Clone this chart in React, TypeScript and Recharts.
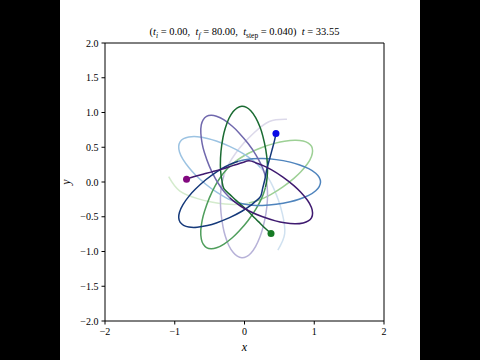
import { ComposedChart, Line, XAxis, YAxis, ReferenceLine } from 'recharts';

// three-body trails, oldest point first, newest (current body position) last
const GREEN_TRAIL: [number, number][] = [
  [-1.087, 0.076], [-0.931, -0.127], [-0.673, -0.239], [-0.475, -0.289], [-0.277, -0.318],
  [-0.14, -0.324], [-0.032, -0.318], [0.064, -0.303], [0.159, -0.278], [0.26, -0.239],
  [0.382, -0.178], [0.551, -0.071], [0.712, 0.056], [0.808, 0.147], [0.903, 0.262],
  [0.96, 0.368], [0.976, 0.445], [0.962, 0.512], [0.915, 0.561], [0.841, 0.591],
  [0.722, 0.601], [0.574, 0.587], [0.444, 0.559], [0.249, 0.497], [0.066, 0.417],
  [-0.053, 0.349], [-0.142, 0.287], [-0.215, 0.223], [-0.282, 0.152], [-0.347, 0.065],
  [-0.419, -0.051], [-0.505, -0.232], [-0.574, -0.425], [-0.607, -0.553], [-0.627, -0.7],
  [-0.619, -0.821], [-0.592, -0.895], [-0.545, -0.944], [-0.478, -0.961], [-0.401, -0.947],
  [-0.294, -0.893], [-0.175, -0.802], [-0.08, -0.71], [0.052, -0.554], [0.165, -0.388],
  [0.23, -0.268], [0.272, -0.168], [0.301, -0.075], [0.319, 0.021], [0.329, 0.129],
  [0.328, 0.266], [0.305, 0.465], [0.262, 0.664], [0.222, 0.79], [0.16, 0.926],
  [0.09, 1.024], [0.028, 1.073], [-0.038, 1.089], [-0.103, 1.068], [-0.162, 1.015],
  [-0.224, 0.913], [-0.276, 0.773], [-0.308, 0.644], [-0.337, 0.442], [-0.346, 0.242],
  [-0.337, 0.105], [-0.32, -0.002], [-0.295, -0.096], [-0.22, -0.17], [-0.12, -0.265],
  [0.0, -0.37], [0.1, -0.47], [0.2, -0.57], [0.3, -0.67], [0.38, -0.74],
];

const BLUE_TRAIL: [number, number][] = [
  [0.478, -0.979], [0.576, -0.743], [0.544, -0.463], [0.488, -0.267], [0.414, -0.081],
  [0.351, 0.041], [0.291, 0.131], [0.23, 0.207], [0.161, 0.277], [0.077, 0.345],
  [-0.037, 0.42], [-0.214, 0.513], [-0.405, 0.589], [-0.531, 0.626], [-0.678, 0.651],
  [-0.799, 0.647], [-0.873, 0.623], [-0.924, 0.577], [-0.943, 0.512], [-0.932, 0.433],
  [-0.882, 0.325], [-0.795, 0.204], [-0.706, 0.105], [-0.555, -0.033], [-0.394, -0.151],
  [-0.276, -0.22], [-0.178, -0.267], [-0.086, -0.298], [0.009, -0.32], [0.117, -0.333],
  [0.254, -0.337], [0.453, -0.321], [0.655, -0.285], [0.782, -0.249], [0.92, -0.193],
  [1.021, -0.126], [1.071, -0.065], [1.09, 0.0], [1.071, 0.067], [1.021, 0.126],
  [0.92, 0.192], [0.782, 0.249], [0.655, 0.286], [0.454, 0.322], [0.254, 0.337],
  [0.117, 0.333], [0.01, 0.32], [-0.086, 0.298], [-0.178, 0.266], [-0.276, 0.22],
  [-0.394, 0.151], [-0.555, 0.032], [-0.706, -0.105], [-0.795, -0.203], [-0.882, -0.324],
  [-0.932, -0.434], [-0.943, -0.512], [-0.924, -0.577], [-0.873, -0.623], [-0.798, -0.648],
  [-0.679, -0.651], [-0.531, -0.626], [-0.404, -0.589], [-0.214, -0.513], [-0.037, -0.421],
  [0.078, -0.344], [0.162, -0.276], [0.231, -0.208], [0.257, -0.106], [0.29, 0.029],
  [0.32, 0.185], [0.357, 0.322], [0.394, 0.458], [0.43, 0.595], [0.451, 0.699],
];

const PURPLE_TRAIL: [number, number][] = [
  [0.609, 0.903], [0.356, 0.87], [0.13, 0.702], [-0.013, 0.556], [-0.137, 0.399],
  [-0.211, 0.283], [-0.259, 0.187], [-0.294, 0.096], [-0.32, 0.001], [-0.337, -0.106],
  [-0.345, -0.242], [-0.337, -0.442], [-0.308, -0.645], [-0.277, -0.773], [-0.225, -0.913],
  [-0.161, -1.015], [-0.103, -1.068], [-0.038, -1.089], [0.028, -1.073], [0.091, -1.024],
  [0.16, -0.926], [0.221, -0.791], [0.262, -0.664], [0.306, -0.464], [0.328, -0.266],
  [0.329, -0.128], [0.32, -0.021], [0.301, 0.075], [0.273, 0.168], [0.23, 0.268],
  [0.165, 0.388], [0.052, 0.553], [-0.081, 0.71], [-0.175, 0.802], [-0.293, 0.893],
  [-0.402, 0.947], [-0.479, 0.96], [-0.545, 0.944], [-0.593, 0.895], [-0.62, 0.821],
  [-0.626, 0.701], [-0.607, 0.553], [-0.575, 0.424], [-0.506, 0.232], [-0.419, 0.051],
  [-0.347, -0.065], [-0.282, -0.152], [-0.216, -0.223], [-0.141, -0.287], [-0.053, -0.349],
  [0.066, -0.417], [0.25, -0.497], [0.444, -0.559], [0.573, -0.587], [0.722, -0.602],
  [0.842, -0.59], [0.915, -0.561], [0.962, -0.512], [0.976, -0.445], [0.96, -0.367],
  [0.903, -0.263], [0.807, -0.148], [0.712, -0.055], [0.551, 0.071], [0.383, 0.179],
  [0.26, 0.239], [0.158, 0.278], [0.064, 0.304], [-0.037, 0.276], [-0.17, 0.236],
  [-0.32, 0.185], [-0.457, 0.149], [-0.594, 0.112], [-0.73, 0.075], [-0.831, 0.041],
];

// trail is split into fading pieces (oldest -> newest), cut at the inner swings
const SEGMENT_BREAKS = [0, 7, 27, 47, 74];

const GREEN_SHADES = ['#d4ebcd', '#9dd095', '#4f9e5c', '#1a6b32'];
const BLUE_SHADES = ['#d0e1f0', '#9cc3e2', '#4f84bd', '#15397a'];
const PURPLE_SHADES = ['#dcd9ea', '#b7b2d8', '#7068ad', '#3f1a70'];

const X_TICKS = [-2, -1, 0, 1, 2];
const Y_TICKS = [-2, -1.5, -1, -0.5, 0, 0.5, 1, 1.5, 2];

const BODIES = [
  { name: 'green', trail: GREEN_TRAIL, shades: GREEN_SHADES, dot: '#167a24' },
  { name: 'blue', trail: BLUE_TRAIL, shades: BLUE_SHADES, dot: '#0a0ae6' },
  { name: 'purple', trail: PURPLE_TRAIL, shades: PURPLE_SHADES, dot: '#82087f' },
];

const FONT = '"Liberation Serif", "DejaVu Serif", serif';
const minus = (s: string) => s.replace('-', '\u2212');

function piece(trail: [number, number][], a: number, b: number) {
  return trail.slice(a, b + 1).map(([x, y]) => ({ x, y }));
}

export default function App() {
  const tick = { fill: '#000', fontSize: 10, fontFamily: FONT };

  const lines: JSX.Element[] = [];
  for (let s = 0; s < SEGMENT_BREAKS.length - 1; s++) {
    BODIES.forEach((b) => {
      lines.push(
        <Line
          key={`${b.name}-${s}`}
          data={piece(b.trail, SEGMENT_BREAKS[s], SEGMENT_BREAKS[s + 1])}
          dataKey="y"
          type="natural"
          stroke={b.shades[s]}
          strokeWidth={1.5}
          dot={false}
          activeDot={false}
          isAnimationActive={false}
        />
      );
    });
  }

  return (
    <div style={{ position: 'absolute', left: 0, top: 0, width: 480, height: 360, background: '#000' }}>
      <div style={{ position: 'absolute', left: 60, top: 0, width: 360, height: 360, background: '#fff' }}>
        <ComposedChart width={360} height={360} margin={{ top: 43, right: 36, bottom: 9, left: 5 }}>
          <XAxis
            type="number"
            dataKey="x"
            domain={[-2, 2]}
            ticks={X_TICKS}
            tickFormatter={(v: number) => minus(String(v))}
            tick={tick}
            tickSize={3.5}
            tickMargin={3}
            stroke="#000"
            height={30}
            allowDataOverflow
          />
          <YAxis
            type="number"
            dataKey="y"
            domain={[-2, 2]}
            ticks={Y_TICKS}
            tickFormatter={(v: number) => minus(v.toFixed(1))}
            tick={tick}
            tickSize={3.5}
            tickMargin={3}
            stroke="#000"
            width={40}
            allowDataOverflow
          />
          <ReferenceLine y={2} stroke="#000" />
          <ReferenceLine x={2} stroke="#000" />
          {lines}
          {BODIES.map((b) => {
            const [x, y] = b.trail[b.trail.length - 1];
            return (
              <Line
                key={`${b.name}-dot`}
                data={[{ x, y }]}
                dataKey="y"
                stroke={b.dot}
                dot={{ r: 3.5, fill: b.dot, stroke: b.dot, strokeWidth: 0 }}
                activeDot={false}
                isAnimationActive={false}
              />
            );
          })}
        </ComposedChart>

        <div
          style={{
            position: 'absolute', left: 45, width: 279, top: 25, textAlign: 'center',
            fontFamily: FONT, fontSize: 10.5, lineHeight: '14px', color: '#000', whiteSpace: 'nowrap',
          }}
        >
          (<i>t</i><sub style={{ fontSize: 7.5, lineHeight: 0 }}><i>i</i></sub> = 0.00,&nbsp; <i>t</i>
          <sub style={{ fontSize: 7.5, lineHeight: 0 }}><i>f</i></sub> = 80.00,&nbsp; <i>t</i>
          <sub style={{ fontSize: 7.5, lineHeight: 0 }}>step</sub> = 0.040)&nbsp; <i>t</i> = 33.55
        </div>
        <div
          style={{
            position: 'absolute', left: 45, width: 279, top: 340, textAlign: 'center',
            fontFamily: FONT, fontSize: 12, fontStyle: 'italic', lineHeight: '14px',
          }}
        >
          x
        </div>
        <div
          style={{
            position: 'absolute', left: -1, top: 175, width: 14, textAlign: 'center',
            fontFamily: FONT, fontSize: 12, fontStyle: 'italic', lineHeight: '14px',
            transform: 'rotate(-90deg)',
          }}
        >
          y
        </div>
      </div>
    </div>
  );
}
